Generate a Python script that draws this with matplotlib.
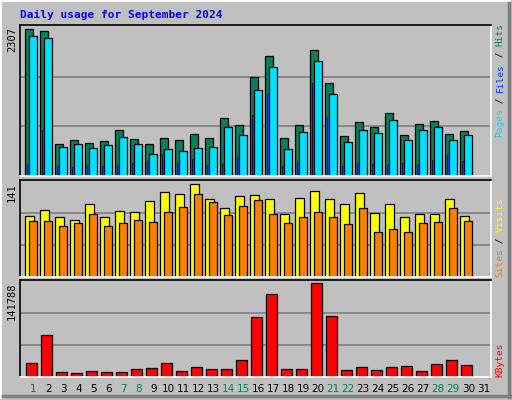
import matplotlib
matplotlib.use("Agg")
import matplotlib.pyplot as plt
import numpy as np

days = list(range(1, 32))
n = 30
hits = [2270, 2239, 490, 552, 506, 537, 707, 568, 490, 583, 552, 645, 583, 893, 785, 1527, 1853, 583, 785, 1946, 1435, 614, 831, 754, 971, 630, 800, 847, 645, 692]
pages = [2162, 2131, 444, 490, 428, 475, 599, 490, 335, 413, 382, 428, 444, 754, 630, 1326, 1682, 413, 676, 1775, 1264, 521, 707, 661, 862, 552, 707, 754, 552, 630]
files = [181, 707, 150, 134, 165, 150, 165, 196, 227, 335, 196, 258, 165, 181, 289, 940, 1264, 150, 212, 1435, 908, 150, 196, 181, 165, 196, 165, 243, 320, 227]
visits = [90, 98, 88, 84, 107, 88, 97, 95, 112, 125, 122, 137, 115, 101, 119, 121, 115, 92, 116, 126, 115, 107, 124, 94, 107, 88, 92, 92, 115, 90]
sites = [82, 82, 75, 79, 92, 75, 79, 84, 81, 95, 103, 122, 110, 91, 104, 113, 92, 79, 88, 95, 88, 77, 101, 66, 70, 66, 79, 81, 101, 82]
kbytes = [20220, 61160, 6570, 5050, 8090, 6570, 6570, 11120, 12640, 20220, 8090, 14160, 11120, 11120, 24770, 88970, 122330, 11120, 11120, 139010, 90490, 9610, 14160, 9610, 14160, 15670, 8090, 18700, 24770, 17190]
weekend = [1, 7, 8, 14, 15, 21, 22, 28, 29]
hmax, vmax, kmax = 2307, 141, 141788

W, H = 512, 400
fig = plt.figure(figsize=(W/100, H/100), dpi=100, facecolor="#C0C0C0")
mono = "DejaVu Sans Mono"

def fx(px): return px / W
def fy(py): return 1 - py / H

fig.add_artist(plt.Line2D([fx(1), fx(1)], [fy(1), fy(398)], color="white", lw=1.5))
fig.add_artist(plt.Line2D([fx(1), fx(510)], [fy(1), fy(1)], color="white", lw=1.5))
fig.add_artist(plt.Line2D([fx(509), fx(509)], [fy(3), fy(397)], color="#808080", lw=2.5))
fig.add_artist(plt.Line2D([fx(3), fx(510)], [fy(396), fy(396)], color="#808080", lw=2.5))

x = np.arange(1, n + 1)
L, R = 20, 491

def panel(top, bot, ymax):
    ax = fig.add_axes([fx(L), fy(bot), fx(R - L), (bot - top) / H])
    ax.set_facecolor("#C0C0C0")
    ax.set_xlim(1 - 13.3/15, 1 + (R - 33.3)/15)
    ax.set_ylim(0, ymax * 1.012)
    for g in (ymax/3, 2*ymax/3):
        ax.axhline(g, color="#808080", lw=1.2, zorder=0)
    ax.set_xticks([]); ax.set_yticks([])
    for s in ("top", "left"):
        ax.spines[s].set_color("black")
    for s in ("bottom", "right"):
        ax.spines[s].set_color("white")
    for s in ax.spines.values():
        s.set_linewidth(1.2)
    return ax

ek = dict(edgecolor="black", linewidth=0.9, align="edge")
ax1 = panel(25, 176, hmax)
ax1.bar(x - 0.53, hits, 0.49, color="#00805C", **ek)
ax1.bar(x - 0.27, pages, 0.49, color="#00E0FF", **ek)
ax1.bar(x - 0.45, files, 0.17, color="#0040FF", edgecolor="black", linewidth=0.5, align="edge")

ax2 = panel(180, 276.5, vmax)
ax2.bar(x - 0.53, visits, 0.55, color="#FFFF00", **ek)
ax2.bar(x - 0.27, sites, 0.49, color="#FF8000", **ek)

ax3 = panel(280, 376.5, kmax)
ax3.bar(x - 0.47, kbytes, 0.69, color="#FF0000", **ek)

fig.text(fx(20), fy(15), "Daily usage for September 2024", color="#0000FF",
         fontsize=8, fontweight="bold", family=mono, va="center", ha="left")

for lab, top in (("2307", 27), ("141", 183), ("141788", 282)):
    fig.text(fx(12), fy(top), lab, rotation=90, fontsize=7.5, family=mono,
             ha="center", va="top", color="black")

def vlabel(parts, bottom_px, fs=6.8):
    adv = 0.6 * fs * 100 / 72
    y = bottom_px
    for txt, col in parts:
        fig.text(fx(500), fy(y), txt, rotation=90, fontsize=fs, family=mono,
                 color=col, ha="center", va="bottom")
        y -= adv * len(txt)

vlabel([("Pages", "#00E0FF"), (" / ", "black"), ("Files", "#0040FF"), (" / ", "black"), ("Hits", "#00805C")], 137)
vlabel([("Sites", "#FF8000"), (" / ", "black"), ("Visits", "#FFFF00")], 277)
vlabel([("KBytes", "#FF0000")], 377)

for d in days:
    cx = 33.3 + (d - 1) * 15
    fig.text(fx(cx), fy(389), str(d), fontsize=7.5, family="DejaVu Sans",
             color="#00805C" if d in weekend else "black", ha="center", va="center")

fig.savefig("out.png", dpi=100, facecolor=fig.get_facecolor())
